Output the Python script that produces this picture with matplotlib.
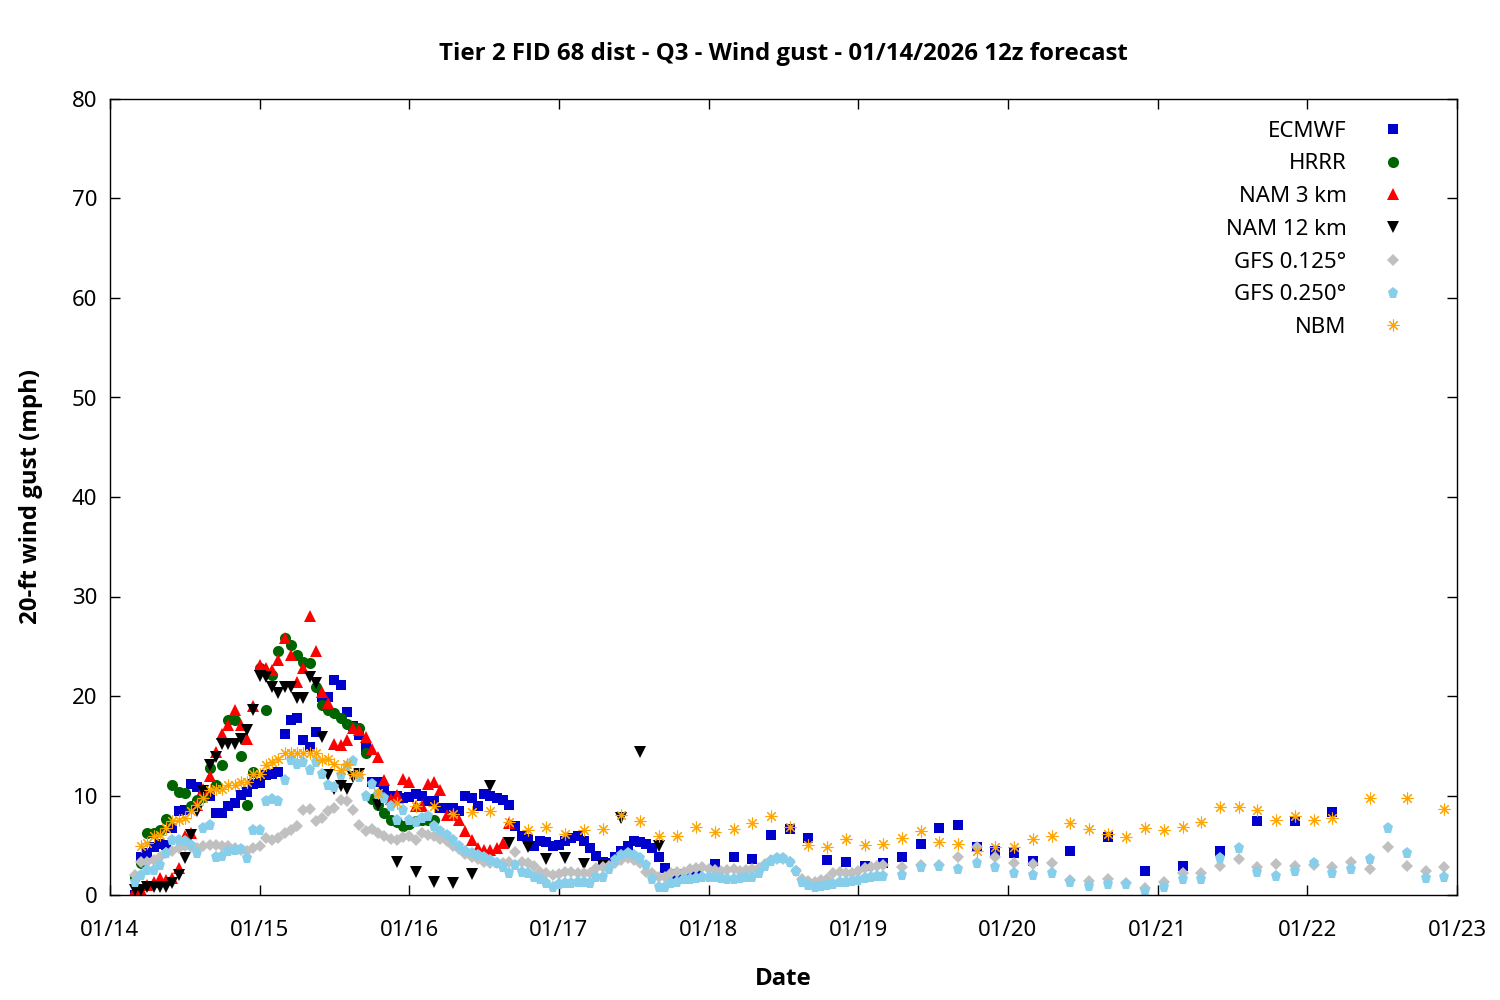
import matplotlib
matplotlib.use("Agg")
import matplotlib.pyplot as plt
import matplotlib.dates as mdates
import numpy as np
from datetime import datetime, timedelta

plt.rcParams['font.family'] = ['Noto Sans', 'DejaVu Sans']
BOLD = ['Open Sans', 'DejaVu Sans']

# forecast start (hour 0), local time
start = datetime(2026, 1, 14, 4)

# ECMWF: hourly to 90 h, 3-hourly to 144 h, 6-hourly to 192 h
ecmwf_hours = list(range(0, 91)) + list(range(93, 145, 3)) + list(range(150, 193, 6))
ecmwf = [0.0, 3.8, 4.2, 4.8, 5.1, 5.0, 6.7, 8.4, 8.5, 11.2, 10.9, 10.3, 9.9, 8.2, 8.2, 8.9,
         9.2, 10.1, 10.4, 11.2, 11.3, 12.1, 12.2, 12.4, 16.2, 17.6, 17.8, 15.6, 14.9, 16.4,
         19.9, 19.9, 21.6, 21.1, 18.4, 17.0, 16.1, 14.9, 11.4, 11.4, 10.7, 9.9, 9.9, 9.7, 9.8,
         10.2, 10.0, 9.4, 9.4, 8.7, 8.7, 8.7, 8.4, 9.9, 9.7, 8.9, 10.2, 9.9, 9.7, 9.5, 9.0,
         6.9, 5.9, 5.6, 4.9, 5.4, 5.3, 4.9, 5.0, 5.4, 5.7, 5.9, 5.4, 4.7, 3.9, 3.3, 3.2, 3.8,
         4.4, 4.9, 5.4, 5.3, 5.1, 4.7, 3.8, 2.7, 2.1, 2.1, 1.9, 1.8, 2.0,
         3.1, 3.8, 3.6, 6.0, 6.6, 5.7, 3.5, 3.3, 2.9, 3.2, 3.8, 5.1, 6.7, 7.0, 4.8, 4.4, 4.2, 3.4,
         4.4, 5.8, 2.4, 2.9, 4.4, 7.4, 7.4, 8.3]

# HRRR: hourly to 48 h
hrrr_hours = list(range(0, 49))
hrrr = [1.8, 3.2, 6.2, 6.2, 6.5, 7.6, 11.1, 10.4, 10.3, 8.9, 9.5, 9.8, 12.8, 11.1, 13.1, 17.6,
        17.6, 14.0, 9.0, 12.4, 22.8, 18.6, 22.1, 24.5, 25.8, 25.1, 24.1, 23.4, 23.3, 20.9, 19.1,
        18.6, 18.3, 17.8, 17.2, 16.9, 16.8, 14.3, 9.6, 9.0, 8.2, 7.5, 7.3, 6.9, 7.1, 7.4, 7.5,
        7.5, 7.5]

# NAM 3 km: hourly to 60 h
nam3_hours = list(range(0, 61))
nam3 = [0.5, 0.5, 1.0, 1.3, 1.7, 1.5, 1.7, 2.7, 5.9, 6.2, 9.0, 10.7, 12.0, 14.4, 16.2, 17.1,
        18.6, 17.1, 15.7, 19.0, 23.1, 22.8, 22.6, 23.6, 25.8, 24.1, 21.4, 22.8, 28.0, 24.5, 20.4,
        19.3, 15.2, 15.1, 15.6, 16.8, 16.6, 15.9, 14.7, 13.9, 11.6, 9.6, 10.1, 11.7, 11.4, 8.9,
        8.9, 11.2, 11.4, 10.6, 8.0, 8.0, 7.5, 6.4, 5.5, 4.7, 4.5, 4.5, 4.7, 5.2, 7.2]

# NAM 12 km: hourly to 36 h, 3-hourly to 84 h
nam12_hours = list(range(0, 37)) + list(range(39, 85, 3))
nam12 = [0.5, 0.5, 0.8, 0.8, 0.8, 0.8, 1.2, 2.0, 3.7, 6.0, 8.4, 10.5, 13.1, 13.9, 15.2, 15.2,
         15.2, 15.7, 16.6, 18.6, 22.0, 21.9, 20.9, 20.3, 20.9, 20.9, 19.8, 19.8, 21.9, 21.3,
         15.9, 12.1, 10.7, 11.0, 10.7, 11.9, 12.2,
         9.0, 3.3, 2.3, 1.3, 1.2, 2.1, 11.0, 5.2, 4.8, 3.6, 3.7, 3.1, 2.9, 7.7, 14.4, 4.9]

# GFS 0.125: hourly to 120 h, 3-hourly to 210 h
gfs125_hours = list(range(0, 121)) + list(range(123, 211, 3))
gfs125 = [2.0, 3.3, 3.3, 3.5, 3.8, 4.2, 4.4, 4.7, 4.9, 4.8, 4.7, 4.9, 5.0, 5.0, 4.9, 4.9, 4.7,
          4.5, 4.4, 4.7, 4.9, 5.7, 5.5, 5.7, 6.2, 6.5, 6.9, 8.5, 8.6, 7.4, 7.7, 8.4, 8.7, 9.5,
          9.4, 8.5, 7.0, 6.4, 6.6, 6.2, 5.9, 5.6, 5.5, 5.8, 5.9, 5.5, 6.2, 6.0, 5.9, 5.6, 5.4,
          4.9, 4.6, 4.1, 3.8, 3.6, 3.3, 3.2, 3.2, 3.2, 3.3, 4.3, 3.3, 3.2, 2.9, 2.3, 2.2, 2.0,
          2.1, 2.3, 2.3, 2.2, 2.2, 2.2, 2.7, 2.8, 2.9, 3.2, 3.5, 3.7, 3.5, 3.2, 2.3, 2.2, 1.8,
          1.8, 2.2, 2.3, 2.3, 2.6, 2.7, 2.8, 2.6, 2.5, 2.4, 2.5, 2.6, 2.4, 2.5, 2.6, 2.7, 3.1,
          3.5, 3.6, 3.6, 3.3, 2.4, 1.6, 1.4, 1.3, 1.5, 1.6, 2.2, 2.3, 2.2, 2.2, 2.4, 2.7, 2.8,
          2.9, 3.0,
          2.8, 3.0, 3.0, 3.8, 4.8, 3.8, 3.2, 3.1, 3.2, 1.5, 1.4, 1.6, 1.2, 0.7, 1.3, 2.2, 2.2,
          2.9, 3.6, 2.8, 3.1, 2.9, 3.0, 2.8, 3.3, 2.6, 4.8, 2.9, 2.4, 2.8]

# GFS 0.250: hourly to 120 h, 3-hourly to 210 h
gfs250_hours = list(range(0, 121)) + list(range(123, 211, 3))
gfs250 = [1.3, 2.0, 2.5, 2.5, 3.0, 4.2, 5.5, 5.5, 5.4, 5.0, 4.2, 6.7, 7.0, 3.8, 3.9, 4.4, 4.5,
          4.6, 3.7, 6.5, 6.5, 9.4, 9.6, 9.4, 11.6, 13.6, 13.2, 13.4, 12.6, 13.4, 12.2, 11.1,
          10.9, 12.1, 13.0, 13.5, 11.9, 10.0, 11.2, 10.2, 9.7, 8.9, 7.5, 8.5, 7.5, 7.3, 7.7, 7.9,
          6.9, 6.4, 6.0, 5.5, 4.9, 4.4, 4.2, 4.0, 3.8, 3.5, 3.2, 2.8, 2.2, 3.0, 2.3, 2.2, 1.8,
          1.6, 1.2, 0.8, 1.1, 1.2, 1.2, 1.3, 1.3, 1.2, 1.8, 1.8, 2.6, 3.5, 4.0, 4.2, 4.0, 3.7,
          3.0, 1.6, 0.8, 0.8, 1.2, 1.3, 1.6, 1.6, 1.7, 1.8,
          1.8, 1.8, 1.7, 1.6, 1.6, 1.7, 1.8, 1.8, 2.2, 2.9, 3.4, 3.7, 3.7, 3.3, 2.4, 1.3, 1.0,
          0.8, 0.9, 1.0, 1.1, 1.3, 1.3, 1.4, 1.5, 1.7, 1.8, 1.9, 1.9,
          2.0, 2.8, 2.9, 2.6, 3.2, 2.8, 2.2, 2.0, 2.2, 1.3, 0.9, 1.1, 1.1, 0.4, 0.8, 1.6, 1.6,
          3.7, 4.7, 2.3, 1.9, 2.4, 3.2, 2.2, 2.6, 3.6, 6.7, 4.2, 1.7, 1.8]

# NBM: hourly 1-36 h, 3-hourly to 192 h, 6-hourly to 210 h
nbm_hours = list(range(1, 37)) + list(range(39, 193, 3)) + list(range(198, 211, 6))
nbm = [4.9, 5.2, 5.9, 6.0, 6.7, 7.4, 7.5, 7.7, 8.4, 9.0, 9.7, 10.6, 10.7, 10.7, 11.1, 11.1,
       11.4, 11.4, 12.2, 12.2, 13.1, 13.4, 13.7, 14.3, 14.3, 14.3, 14.3, 14.3, 14.3, 13.6, 13.7,
       13.2, 12.6, 13.2, 12.2, 12.2,
       10.3, 9.2, 8.9, 8.9, 8.1, 8.3, 8.4, 7.3, 6.5, 6.8, 6.1, 6.5, 6.6, 8.0, 7.4, 5.9,
       5.9, 6.8, 6.3, 6.6, 7.2, 7.9, 6.8, 5.0, 4.8, 5.6, 5.0, 5.1, 5.7, 6.4, 5.3, 5.1,
       4.4, 4.8, 4.8, 5.6, 5.9, 7.2, 6.6, 6.1, 5.8, 6.7, 6.5, 6.8, 7.3, 8.8, 8.8, 8.5,
       7.5, 7.9, 7.5, 7.7,
       9.7, 9.7, 8.6]


def times(hours):
    return [start + timedelta(hours=h) for h in hours]


fig = plt.figure(figsize=(15, 10), dpi=100)
ax = fig.add_axes([0.0733, 0.105, 0.898, 0.796])

ms = dict(linestyle='none', markeredgewidth=0)
ax.plot(times(ecmwf_hours), ecmwf, marker='s', markersize=6.5, color='#0000cc', label='ECMWF', **ms)
ax.plot(times(hrrr_hours), hrrr, marker='o', markersize=8, color='#006400', label='HRRR', **ms)
ax.plot(times(nam3_hours), nam3, marker='^', markersize=9, color='#ff0000', label='NAM 3 km', **ms)
ax.plot(times(nam12_hours), nam12, marker='v', markersize=9, color='#000000', label='NAM 12 km', **ms)
ax.plot(times(gfs125_hours), gfs125, marker='D', markersize=5.7, color='#c0c0c0', label='GFS 0.125°', **ms)
ax.plot(times(gfs250_hours), gfs250, marker='p', markersize=8.3, color='#87ceeb', label='GFS 0.250°', **ms)
ax.plot(times(nbm_hours), nbm, marker=(8, 2, 0), markersize=8.5, color='#ffa500',
        markeredgecolor='#ffa500', markeredgewidth=0.8, linestyle='none', label='NBM')

ax.set_xlim(datetime(2026, 1, 14), datetime(2026, 1, 23))
ax.set_ylim(0, 80)
ax.set_yticks(np.arange(0, 81, 10))
ax.xaxis.set_major_locator(mdates.DayLocator())
ax.xaxis.set_major_formatter(mdates.DateFormatter('%m/%d'))
ax.tick_params(direction='in', top=True, right=True, length=7, width=1, labelsize=16)
ax.tick_params(axis='x', pad=18)
ax.tick_params(axis='y', pad=9)
for s in ax.spines.values():
    s.set_linewidth(1)

ax.set_title('Tier 2 FID 68 dist - Q3 - Wind gust - 01/14/2026 12z forecast',
             fontsize=17.3, fontweight='bold', family=BOLD, pad=28)
ax.set_xlabel('Date', fontsize=17.3, fontweight='bold', family=BOLD, labelpad=19)
ax.set_ylabel('20-ft wind gust (mph)', fontsize=17.3, fontweight='bold', family=BOLD, labelpad=21)

ax.legend(loc='upper right', bbox_to_anchor=(0.984, 0.998), frameon=False, markerfirst=False,
          fontsize=16, handletextpad=1.1, labelspacing=0.53, handlelength=2.0)

fig.savefig('out.png', dpi=100)
